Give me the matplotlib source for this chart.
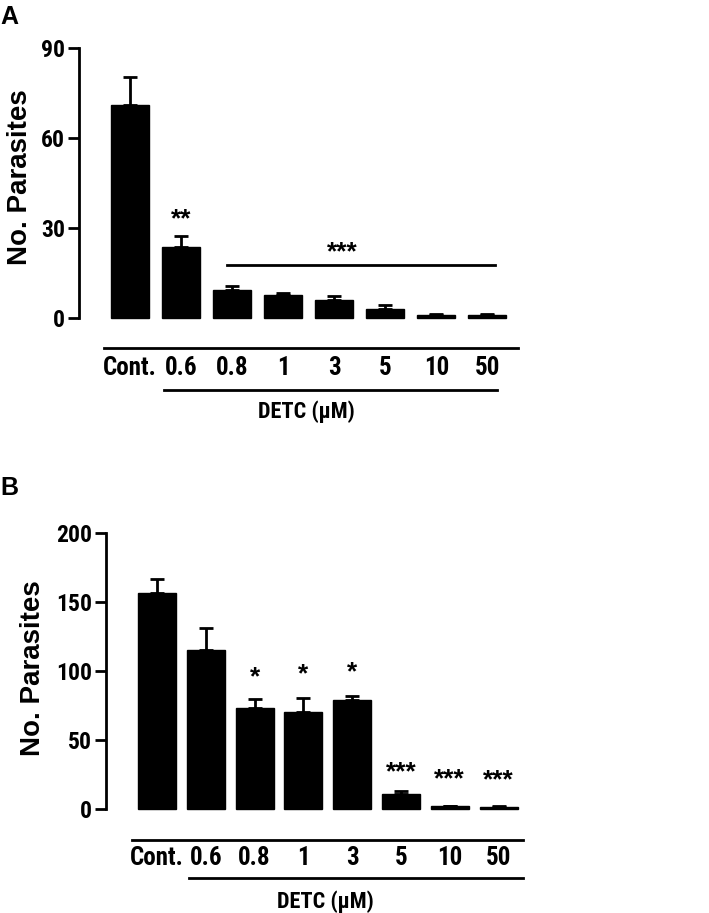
import matplotlib
matplotlib.use("Agg")
import os
import matplotlib.pyplot as plt
from matplotlib.transforms import blended_transform_factory
from matplotlib import font_manager
from matplotlib.font_manager import FontProperties

categories = ["Cont.", "0.6", "0.8", "1", "3", "5", "10", "50"]
a_values = [71.0, 23.6, 9.2, 7.6, 6.1, 3.1, 1.0, 1.0]
a_err = [9.3, 3.6, 1.5, 0.6, 1.3, 1.1, 0.2, 0.2]
b_values = [156.5, 115.5, 73.5, 70.5, 79.0, 10.8, 1.9, 1.8]
b_err = [10.3, 16.0, 6.2, 9.7, 3.2, 2.5, 0.5, 0.3]
b_stars = ["", "", "*", "*", "*", "***", "***", "***"]
b_star_y = [0, 0, 87, 89, 90, 18, 13, 12]
a_yticks = [0, 30, 60, 90]
b_yticks = [0, 50, 100, 150, 200]
xlabel = "DETC (\u00b5M)"
ylabel = "No. Parasites"

# find a bold narrow / condensed font if one is installed
prefs = ["liberationsansnarrow-bold", "arialnarrowbold", "arialnb", "robotocondensed-bold",
         "opensanscondensed-bold", "dejavusanscondensed-bold"]
paths = [f.fname for f in font_manager.fontManager.ttflist]
narrow_path = None
for p in prefs:
    for fp in paths:
        base = os.path.basename(fp).lower().replace(" ", "").replace("_", "")
        if base.startswith(p):
            narrow_path = fp
            break
    if narrow_path:
        break

if narrow_path:
    NF = FontProperties(fname=narrow_path)
    xs, ys, ds = 18, 17, 16
else:
    NF = FontProperties(family=["Liberation Sans", "DejaVu Sans"], weight="bold")
    xs, ys, ds = 15, 15, 14
STAR = FontProperties(family=["Liberation Sans", "DejaVu Sans"], weight="bold", size=19)

def nf(size):
    f = NF.copy()
    f.set_size(size)
    return f

plt.rcParams["font.family"] = ["Liberation Sans", "DejaVu Sans"]
plt.rcParams["font.weight"] = "bold"

W, H = 709, 913
fig = plt.figure(figsize=(W / 100, H / 100), dpi=100)

def px_axes(x0, x1, y_top, y_bottom):
    return fig.add_axes([x0 / W, 1 - y_bottom / H, (x1 - x0) / W, (y_bottom - y_top) / H])

def panel(ax, values, errs, yticks, ymax, width, xlim, rows):
    x = list(range(len(values)))
    ax.bar(x, values, width=width, color="black", edgecolor="black", linewidth=1, clip_on=False, zorder=2)
    ax.errorbar(x, values, yerr=[[0] * len(errs), errs], fmt="none", ecolor="black",
                elinewidth=2, capsize=5, capthick=2, clip_on=False, zorder=1)
    ax.set_xlim(*xlim)
    ax.set_ylim(0, ymax)
    ax.set_yticks(yticks)
    ax.set_yticklabels([str(t) for t in yticks], fontproperties=nf(ys))
    ax.tick_params(axis="y", length=8, width=2, pad=2)
    ax.set_xticks([])
    for s in ["top", "right", "bottom"]:
        ax.spines[s].set_visible(False)
    ax.spines["left"].set_linewidth(2)
    tr = blended_transform_factory(ax.transData, fig.transFigure)
    y1, ylab, y2, ydetc, end1, end2 = rows
    ax.plot([-0.52, end1], [1 - y1 / H] * 2, color="black", lw=2, transform=tr, clip_on=False)
    for i, c in enumerate(categories):
        ax.text(i, 1 - ylab / H, c, transform=tr, ha="center", va="center", fontproperties=nf(xs))
    ax.plot([0.66, end2], [1 - y2 / H] * 2, color="black", lw=2, transform=tr, clip_on=False)
    ax.text(3.45, 1 - ydetc / H, xlabel, transform=tr, ha="center", va="center", fontproperties=nf(ds))

# Panel A
axA = px_axes(79, 518, 48, 318)
panel(axA, a_values, a_err, a_yticks, 90, 0.745, (-1.0, 7.6), (348, 368, 390, 412, 7.6, 7.18))
axA.plot([1.9, 7.15], [17.6, 17.6], color="black", lw=2, clip_on=False)
axA.text(4.15, 17.8, "***", ha="center", va="bottom", fontproperties=STAR)
axA.text(1, a_values[1] + a_err[1] + 1.6, "**", ha="center", va="bottom", fontproperties=STAR)
fig.text(20 / W, 1 - 177 / H, ylabel, rotation=90, ha="center", va="center",
         fontsize=20, fontweight="bold")
fig.text(0 / W, 1 - 17 / H, "A", ha="left", va="center", fontsize=18, fontweight="bold")

# Panel B
axB = px_axes(106, 523, 533, 809)
panel(axB, b_values, b_err, b_yticks, 200, 0.78, (-1.045, 7.5), (840, 858, 878, 902, 7.5, 7.5))
for i, (s, y) in enumerate(zip(b_stars, b_star_y)):
    if s:
        axB.text(i, y, s, ha="center", va="bottom", fontproperties=STAR)
fig.text(33 / W, 1 - 668 / H, ylabel, rotation=90, ha="center", va="center",
         fontsize=20, fontweight="bold")
fig.text(0 / W, 1 - 488 / H, "B", ha="left", va="center", fontsize=18, fontweight="bold")

fig.savefig("out.png", dpi=100)
